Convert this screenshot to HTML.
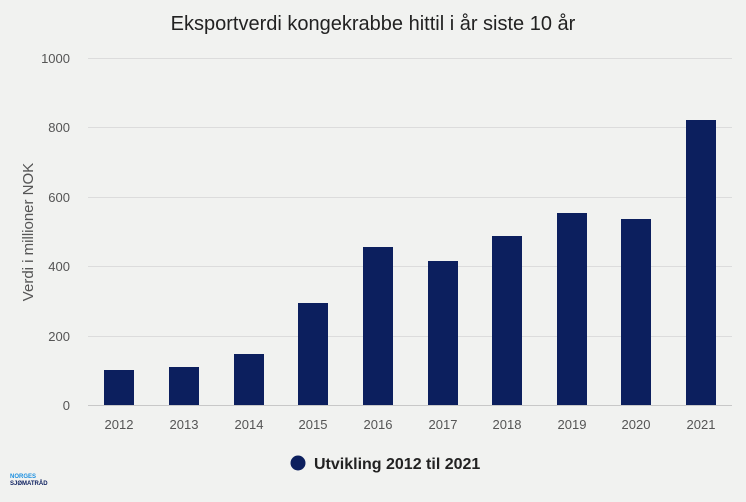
<!DOCTYPE html>
<html><head><meta charset="utf-8"><style>
html,body{margin:0;padding:0;background:#f1f2f0;}
body{width:746px;height:497px;overflow:hidden;}
</style></head><body>
<svg width="746" height="497" xmlns="http://www.w3.org/2000/svg" font-family="Liberation Sans, sans-serif">
<rect width="746" height="497" fill="#f1f2f0"/>
<text x="373" y="30" text-anchor="middle" font-size="20" fill="#222">Eksportverdi kongekrabbe hittil i år siste 10 år</text>
<g stroke="#dcdcdc" stroke-width="1">
<line x1="88" x2="732" y1="58.5" y2="58.5"/>
<line x1="88" x2="732" y1="127.5" y2="127.5"/>
<line x1="88" x2="732" y1="197.5" y2="197.5"/>
<line x1="88" x2="732" y1="266.5" y2="266.5"/>
<line x1="88" x2="732" y1="336.5" y2="336.5"/>
</g>
<line x1="88" x2="732" y1="405.5" y2="405.5" stroke="#c8c8c8"/>
<g font-size="13" fill="#555" text-anchor="end">
<text x="70" y="63">1000</text><text x="70" y="132">800</text><text x="70" y="202">600</text>
<text x="70" y="271">400</text><text x="70" y="341">200</text><text x="70" y="410">0</text>
</g>
<text transform="translate(33,232) rotate(-90)" text-anchor="middle" font-size="15" fill="#555">Verdi i millioner NOK</text>
<g fill="#0c1f5e">
<rect x="104" y="370" width="30" height="35"/>
<rect x="169" y="367" width="30" height="38"/>
<rect x="234" y="354" width="30" height="51"/>
<rect x="298" y="303" width="30" height="102"/>
<rect x="363" y="247" width="30" height="158"/>
<rect x="428" y="261" width="30" height="144"/>
<rect x="492" y="236" width="30" height="169"/>
<rect x="557" y="213" width="30" height="192"/>
<rect x="621" y="219" width="30" height="186"/>
<rect x="686" y="120" width="30" height="285"/>
</g>
<g font-size="13" fill="#555" text-anchor="middle">
<text x="119" y="429">2012</text><text x="184" y="429">2013</text><text x="249" y="429">2014</text>
<text x="313" y="429">2015</text><text x="378" y="429">2016</text><text x="443" y="429">2017</text>
<text x="507" y="429">2018</text><text x="572" y="429">2019</text><text x="636" y="429">2020</text>
<text x="701" y="429">2021</text>
</g>
<circle cx="298" cy="463" r="7.5" fill="#0c1f5e"/>
<text x="314" y="469" font-size="16" font-weight="bold" fill="#222">Utvikling 2012 til 2021</text>
<text x="10" y="478" font-size="6" font-weight="bold" fill="#1a8fe0">NORGES</text>
<text x="10" y="485" font-size="6" font-weight="bold" fill="#0c1f5e">SJØMATRÅD</text>
</svg>
</body></html>
